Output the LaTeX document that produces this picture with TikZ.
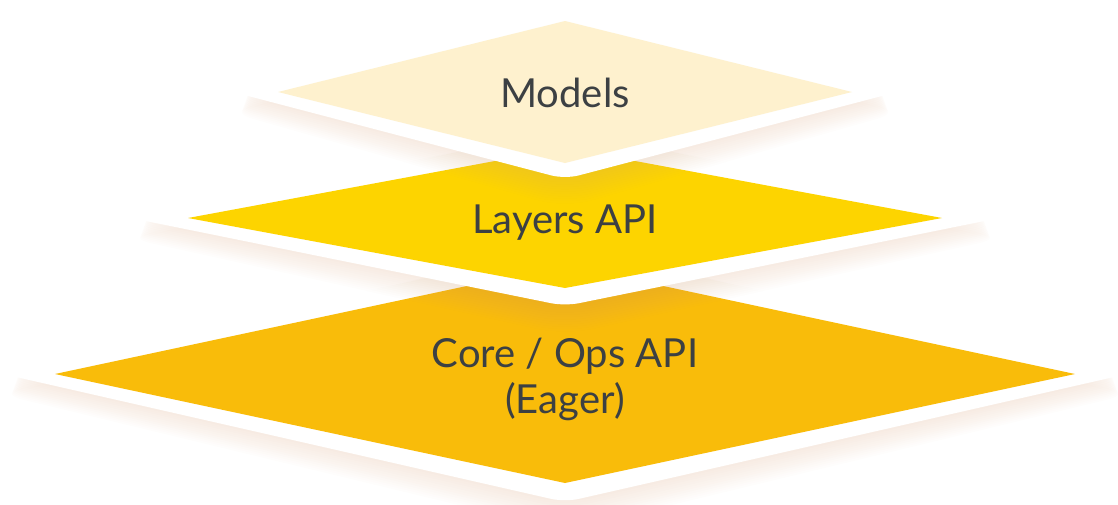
\documentclass[tikz,border=0pt]{standalone}
\usepackage{fontspec}
\setmainfont{Lato}
\usetikzlibrary{calc}
\definecolor{modelsc}{HTML}{FEF1CE}
\definecolor{layersc}{HTML}{FDD400}
\definecolor{corec}{HTML}{F9BC0A}
\definecolor{textc}{HTML}{3C4043}
\definecolor{glowc}{HTML}{D9A27A}
\tikzset{
  rim/.style={fill=white,rounded corners=7pt},                 % white border
  glow/.style={fill=glowc,opacity=0.02,rounded corners=14pt},  % soft shadow
  lbl/.style={text=textc,font=\fontsize{20}{23}\selectfont,align=center,anchor=base},
}
\newcommand{\layer}[7]{% cx, cy, rim hw, rim hh, fill hw, fill hh, colour
  \foreach \s in {4,8,...,48}
    \fill[glow] (#1-#3-\s*0.15,#2+\s*0.4) -- (#1,#2-#4+\s*0.8)
      -- (#1+#3+\s*0.15,#2+\s*0.4) -- (#1,#2+#4+\s*0.6) -- cycle;
  \fill[rim] (#1-#3,#2) -- (#1,#2-#4) -- (#1+#3,#2) -- (#1,#2+#4) -- cycle;
  \fill[#7] (#1-#5,#2) -- (#1,#2-#6) -- (#1+#5,#2) -- (#1,#2+#6) -- cycle;
}

\begin{document}
\begin{tikzpicture}[x=0.5pt,y=-0.5pt]
  \useasboundingbox (0,0) rectangle (1118,504);
  \clip (0,0) rectangle (1118,504);
  \layer{565}{374}{562}{128}{510}{109}{corec}
  \layer{565}{218}{434}{88}{377}{70}{layersc}
  \layer{565}{92}{332}{87}{287}{71}{modelsc}
  \node[lbl] (core) at (565,413) {Core / Ops API\\(Eager)};
  \node[lbl] (layers) at (565,233) {Layers API};
  \node[lbl] (models) at (565,107) {Models};
\end{tikzpicture}
\end{document}
